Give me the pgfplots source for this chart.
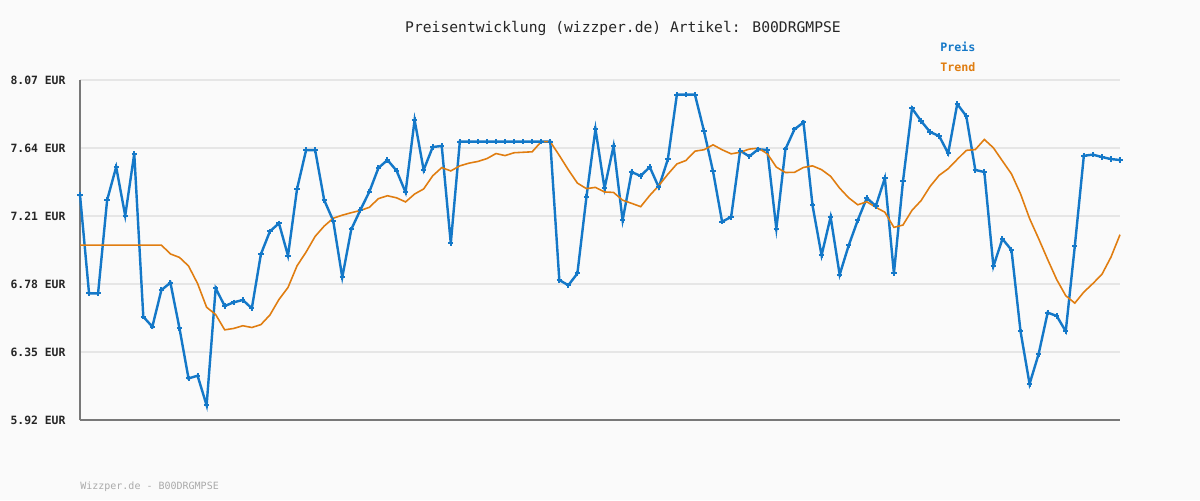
\documentclass[border=0pt]{standalone}
\usepackage{pgfplots}
\pgfplotsset{compat=1.18}
\usepackage{fontspec}
\setmainfont{DejaVu Sans Mono}
\definecolor{bgcol}{RGB}{250,250,250}
\definecolor{gridcol}{RGB}{230,230,230}
\definecolor{axcol}{RGB}{120,120,120}
\definecolor{preis}{RGB}{20,120,200}
\definecolor{trend}{RGB}{224,125,16}
\definecolor{foot}{RGB}{170,170,170}
\begin{document}
\begin{tikzpicture}
\path[use as bounding box, fill=bgcol] (0,0) rectangle (720pt,300pt);
\begin{axis}[
  at={(48pt,48pt)}, anchor=south west,
  scale only axis, width=624pt, height=204pt,
  xmin=0, xmax=115, ymin=5.92, ymax=8.07,
  axis x line*=bottom, axis y line*=left,
  axis line style={-, draw=axcol, line width=1.5pt},
  xtick=\empty,
  ytick={5.92,6.35,6.78,7.21,7.64,8.07},
  yticklabels={5.92 EUR,6.35 EUR,6.78 EUR,7.21 EUR,7.64 EUR,8.07 EUR},
  yticklabel style={font=\fontsize{6.85}{8}\selectfont\bfseries, text=black!85, anchor=east, inner sep=0pt, xshift=-8.5pt},
  major tick length=0pt,
  ymajorgrids, grid style={draw=gridcol, line width=1.2pt},
  clip=false,
  /pgf/number format/assume math mode=true,
]
\addplot[color=preis, line width=1.45pt, mark=+, mark size=1.6pt, mark options={line width=1.2pt}] coordinates {
(0,7.343)(1,6.721)(2,6.721)(3,7.311)(4,7.520)(5,7.212)(6,7.604)(7,6.573)(8,6.510)(9,6.742)
(10,6.788)(11,6.500)(12,6.183)(13,6.200)(14,6.013)(15,6.753)(16,6.641)(17,6.664)(18,6.679)(19,6.626)
(20,6.968)(21,7.113)(22,7.164)(23,6.959)(24,7.381)(25,7.627)(26,7.627)(27,7.311)(28,7.180)(29,6.822)
(30,7.126)(31,7.248)(32,7.364)(33,7.514)(34,7.564)(35,7.497)(36,7.360)(37,7.817)(38,7.501)(39,7.646)
(40,7.653)(41,7.037)(42,7.680)(43,7.680)(44,7.680)(45,7.680)(46,7.680)(47,7.680)(48,7.680)(49,7.680)
(50,7.680)(51,7.680)(52,7.680)(53,6.805)(54,6.772)(55,6.847)(56,7.330)(57,7.760)(58,7.385)(59,7.653)
(60,7.183)(61,7.488)(62,7.463)(63,7.520)(64,7.391)(65,7.568)(66,7.977)(67,7.977)(68,7.977)(69,7.747)
(70,7.492)(71,7.174)(72,7.204)(73,7.623)(74,7.587)(75,7.632)(76,7.627)(77,7.130)(78,7.632)(79,7.758)
(80,7.802)(81,7.277)(82,6.961)(83,7.204)(84,6.839)(85,7.024)(86,7.183)(87,7.324)(88,7.273)(89,7.450)
(90,6.847)(91,7.429)(92,7.891)(93,7.811)(94,7.741)(95,7.716)(96,7.606)(97,7.918)(98,7.842)(99,7.501)
(100,7.488)(101,6.892)(102,7.065)(103,6.995)(104,6.481)(105,6.148)(106,6.337)(107,6.599)(108,6.578)(109,6.481)
(110,7.018)(111,7.591)(112,7.598)(113,7.583)(114,7.570)(115,7.564)
};
\addplot[color=trend, line width=0.95pt, mark=none] coordinates {
(0,7.026)(1,7.026)(2,7.026)(3,7.026)(4,7.026)(5,7.026)(6,7.026)(7,7.026)(8,7.026)(9,7.026)
(10,6.970)(11,6.948)(12,6.894)(13,6.783)(14,6.633)(15,6.587)(16,6.490)(17,6.499)(18,6.516)(19,6.505)
(20,6.523)(21,6.584)(22,6.682)(23,6.758)(24,6.895)(25,6.982)(26,7.081)(27,7.146)(28,7.196)(29,7.215)
(30,7.231)(31,7.245)(32,7.265)(33,7.320)(34,7.338)(35,7.325)(36,7.299)(37,7.349)(38,7.381)(39,7.464)
(40,7.516)(41,7.495)(42,7.527)(43,7.544)(44,7.555)(45,7.573)(46,7.605)(47,7.592)(48,7.610)(49,7.613)
(50,7.616)(51,7.680)(52,7.680)(53,7.593)(54,7.502)(55,7.418)(56,7.383)(57,7.391)(58,7.362)(59,7.359)
(60,7.310)(61,7.290)(62,7.269)(63,7.340)(64,7.402)(65,7.474)(66,7.539)(67,7.561)(68,7.620)(69,7.629)
(70,7.660)(71,7.629)(72,7.603)(73,7.613)(74,7.633)(75,7.639)(76,7.604)(77,7.519)(78,7.485)(79,7.486)
(80,7.517)(81,7.527)(82,7.503)(83,7.461)(84,7.386)(85,7.325)(86,7.281)(87,7.300)(88,7.265)(89,7.234)
(90,7.138)(91,7.153)(92,7.246)(93,7.307)(94,7.397)(95,7.467)(96,7.509)(97,7.568)(98,7.625)(99,7.630)
(100,7.694)(101,7.641)(102,7.558)(103,7.476)(104,7.350)(105,7.194)(106,7.067)(107,6.935)(108,6.808)(109,6.706)
(110,6.659)(111,6.729)(112,6.783)(113,6.841)(114,6.950)(115,7.092)
};
\end{axis}
\node[font=\fontsize{8.8}{10}\selectfont, text=black!85] at (373.8pt,283.2pt) {Preisentwicklung (wizzper.de) Artikel: B00DRGMPSE};
\node[font=\fontsize{7}{8}\selectfont\bfseries, text=preis, anchor=west, inner sep=0pt] at (564pt,271.8pt) {Preis};
\node[font=\fontsize{7}{8}\selectfont\bfseries, text=trend, anchor=west, inner sep=0pt] at (564pt,259.8pt) {Trend};
\node[font=\fontsize{6}{7}\selectfont, text=foot, anchor=west, inner sep=0pt] at (48pt,7.8pt) {Wizzper.de - B00DRGMPSE};
\end{tikzpicture}
\end{document}
